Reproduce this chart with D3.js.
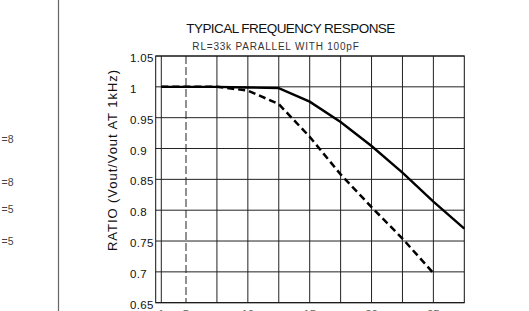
<!DOCTYPE html>
<html>
<head>
<meta charset="utf-8">
<script src="https://cdn.jsdelivr.net/npm/d3@7"></script>
<style>
  body { margin: 0; background: #fff; }
  svg { display: block; }
  text { font-family: "Liberation Sans", Arial, sans-serif; fill: #111; }
</style>
</head>
<body>
<div id="chart"></div>
<script>
// frequency in kHz (x), ratio Vout/Vout(1kHz) (y)
var xTicks = [1, 5, 7.5, 10, 12.5, 15, 17.5, 20, 22.5, 25];
var xLabels = [1, 5, 10, 15, 20, 25];
var yTicks = [0.65, 0.7, 0.75, 0.8, 0.85, 0.9, 0.95, 1, 1.05];
var yLabels = ["0.65", "0.7", "0.75", "0.8", "0.85", "0.9", "0.95", "1", "1.05"];

var freqSolid = [1, 5, 7.5, 10, 12.5, 15, 17.5, 20, 22.5, 25, 27.5];
var ratioSolid = [1, 1, 1, 0.999, 0.998, 0.976, 0.943, 0.904, 0.861, 0.814, 0.770];

var freqDashed = [1, 5, 7.5, 10, 12.5, 15, 17.5, 20, 22.5, 25];
var ratioDashed = [1, 1, 1, 0.994, 0.972, 0.919, 0.858, 0.805, 0.754, 0.698];

// cut-off labels of the neighbouring panel
var sideLabels = ["=8", "=8", "=5", "=5"];
var sideY = [142.5, 186, 212.5, 245];

var width = 529, height = 311;

var svg = d3.select("#chart").append("svg")
    .attr("width", width)
    .attr("height", height);

var x = d3.scaleLinear()
    .domain([0, 1, 5, 27.5])
    .range([155.7, 161.3, 186, 464.3]);

var y = d3.scaleLinear()
    .domain([0.65, 1.05])
    .range([302.7, 56]);

// left panel divider + its labels
svg.append("line")
    .attr("x1", 58.5).attr("x2", 58.5)
    .attr("y1", 0).attr("y2", height)
    .attr("stroke", "#666").attr("stroke-width", 1.2);

svg.selectAll(".side")
  .data(sideLabels)
  .enter().append("text")
    .attr("class", "side")
    .attr("x", 13.5)
    .attr("y", (d, i) => sideY[i])
    .attr("text-anchor", "end")
    .style("font-size", "10.5px")
    .style("fill", "#444")
    .text(d => d);

// grid
svg.selectAll(".hgrid")
  .data(yTicks)
  .enter().append("line")
    .attr("class", "hgrid")
    .attr("x1", x(0)).attr("x2", x(27.5))
    .attr("y1", d => y(d)).attr("y2", d => y(d))
    .attr("stroke", "#222").attr("stroke-width", 1);

svg.selectAll(".vgrid")
  .data(xTicks)
  .enter().append("line")
    .attr("class", "vgrid")
    .attr("x1", d => x(d)).attr("x2", d => x(d))
    .attr("y1", y(1.05)).attr("y2", y(0.65))
    .attr("stroke", "#222").attr("stroke-width", 1)
    .attr("stroke-dasharray", d => d == 5 ? "8,3" : null);

// frame
svg.append("rect")
    .attr("x", x(0)).attr("y", y(1.05))
    .attr("width", x(27.5) - x(0))
    .attr("height", y(0.65) - y(1.05))
    .attr("fill", "none")
    .attr("stroke", "#111").attr("stroke-width", 1);

// y labels
svg.selectAll(".ylab")
  .data(yTicks)
  .enter().append("text")
    .attr("class", "ylab")
    .attr("x", 130)
    .attr("y", d => y(d) + 6)
    .style("font-size", "11.5px")
    .style("letter-spacing", "0.3px")
    .text((d, i) => yLabels[i]);

// x labels (mostly cut off by the bottom edge, as in the source)
svg.selectAll(".xlab")
  .data(xLabels)
  .enter().append("text")
    .attr("class", "xlab")
    .attr("x", d => x(d))
    .attr("y", 317.5)
    .attr("text-anchor", "middle")
    .style("font-size", "11.5px")
    .style("fill", "#666")
    .text(d => d);

// curves
var line = d3.line()
    .x(d => x(d[0]))
    .y(d => y(d[1]));

svg.append("path")
    .datum(d3.zip(freqSolid, ratioSolid))
    .attr("d", line)
    .attr("fill", "none")
    .attr("stroke", "#000")
    .attr("stroke-width", 2.4);

svg.append("path")
    .datum(d3.zip(freqDashed, ratioDashed))
    .attr("d", line)
    .attr("fill", "none")
    .attr("stroke", "#000")
    .attr("stroke-width", 2.5)
    .attr("stroke-dasharray", "7,4");

// titles
svg.append("text")
    .attr("x", 290.5).attr("y", 32.7)
    .attr("text-anchor", "middle")
    .style("font-size", "13.5px")
    .style("letter-spacing", "-0.55px")
    .text("TYPICAL FREQUENCY RESPONSE");

svg.append("text")
    .attr("x", 276).attr("y", 49.5)
    .attr("text-anchor", "middle")
    .style("font-size", "10px")
    .style("letter-spacing", "0.8px")
    .style("fill", "#333")
    .text("RL=33k PARALLEL WITH 100pF");

svg.append("text")
    .attr("transform", "translate(116.5,160) rotate(-90)")
    .attr("text-anchor", "middle")
    .style("font-size", "13px")
    .style("letter-spacing", "0.95px")
    .text("RATIO (Vout/Vout AT 1kHz)");
</script>
</body>
</html>
